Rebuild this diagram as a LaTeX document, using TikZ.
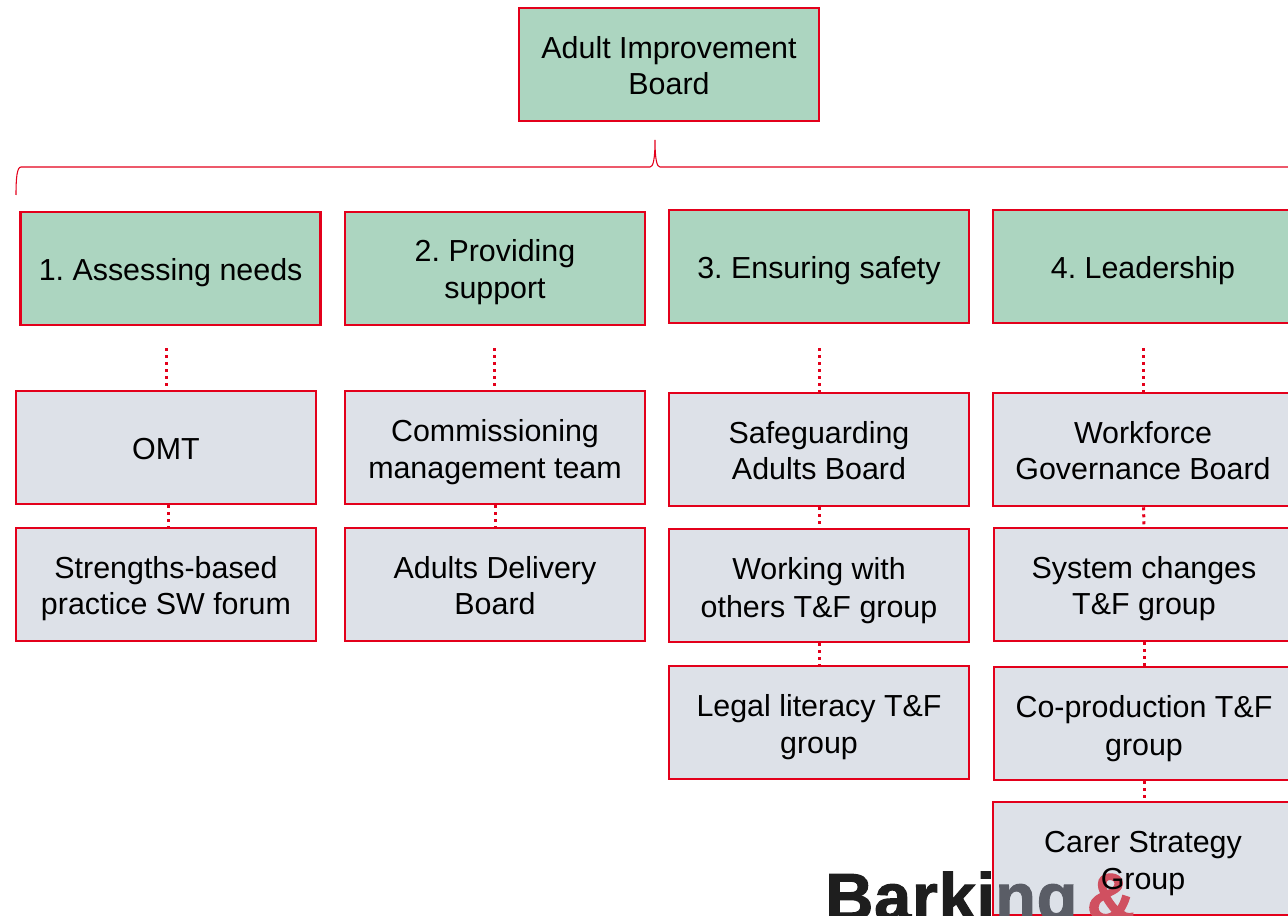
\documentclass[tikz,border=0pt]{standalone}
\usepackage{fontspec}
\setmainfont{Liberation Sans}
\newfontfamily\logofont[FakeBold=1.6,LetterSpace=1.2]{Liberation Sans Bold}
\definecolor{boardred}{HTML}{E3001B}
\definecolor{boardgreen}{HTML}{ACD5C0}
\definecolor{boardgrey}{HTML}{DDE1E8}
\definecolor{logodark}{HTML}{1E1E1E}
\definecolor{logogrey}{HTML}{5A5D66}
\definecolor{logored}{HTML}{D05060}
% text block placed at a fixed offset (in reference pixels) from the box centre
\newcommand{\boxlines}[2]{\raisebox{\dimexpr-0.75pt*\numexpr#1+113\relax/10\relax}[0pt][0pt]{\frenchspacing\begin{tabular}{@{}c@{}}#2\end{tabular}}}
\tikzset{
  x=0.75pt,y=-0.75pt,
  boxbase/.style={draw=boardred,line width=1.9pt,minimum width=225pt,minimum height=84.75pt,inner sep=0pt,text=black,font=\fontsize{22.8pt}{27.4pt}\selectfont},
  greenbox/.style={boxbase,fill=boardgreen},
  greybox/.style={boxbase,fill=boardgrey},
  dotline/.style={draw=boardred,line width=2.25pt,dash pattern=on 2.25pt off 3pt},
  bracket/.style={draw=boardred,line width=0.8pt},
  boxtext/.style={inner sep=0pt,text=black,font=\fontsize{22.8pt}{27.4pt}\selectfont},
  logotext/.style={inner sep=0pt,anchor=base west,font=\fontsize{50pt}{55pt}\selectfont\logofont}
}
\begin{document}
\begin{tikzpicture}
\useasboundingbox (0,0) rectangle (1288,916);
\clip (0,0) rectangle (1288,916);
\node[greenbox] (top) at (669,64.5) {\boxlines{5}{Adult Improvement\\Board}};
\coordinate (bl) at (16,195);
\coordinate (tip) at (655,140);
\coordinate (br) at (1300,167);
\draw[bracket] (bl) .. controls (16,178) and (17,167) .. (21,167) -- (650,167) .. controls (653,167) and (655,160) .. (tip) .. controls (655,160) and (657,167) .. (660,167) -- (br);

\node[greenbox] (h1) at (170.6,268.5) {\boxlines{5}{1. Assessing needs}};
\node[greenbox] (h2) at (495,268.5) {\boxlines{0}{2. Providing\\support}};
\node[greenbox] (h3) at (819,266.5) {\boxlines{5}{3. Ensuring safety}};
\node[greenbox] (h4) at (1143,266.5) {\boxlines{5}{4. Leadership}};

\node[greybox] (a1) at (166,447.5) {\boxlines{5}{OMT}};
\node[greybox] (a2) at (166,584.5) {\boxlines{5}{Strengths-based\\practice SW forum}};
\node[greybox] (b1) at (495,447.5) {\boxlines{10}{Commissioning\\management team}};
\node[greybox] (b2) at (495,584.5) {\boxlines{5}{Adults Delivery\\Board}};
\node[greybox] (c1) at (819,449.5) {\boxlines{5}{Safeguarding\\Adults Board}};
\node[greybox] (c2) at (819,585.5) {\boxlines{10}{Working with\\[1.2pt]others T\&F group}};
\node[greybox] (c3) at (819,722.5) {\boxlines{10}{Legal literacy T\&F\\[0.6pt]group}};
\node[greybox] (d1) at (1143,449.5) {\boxlines{5}{Workforce\\Governance Board}};
\node[greybox] (d2) at (1144,584.5) {\boxlines{5}{System changes\\T\&F group}};
\node[greybox] (d3) at (1144,723.5) {\boxlines{15}{Co-production T\&F\\[1.2pt]group}};
\node[greybox] (d4) at (1143,858.5) {};

\coordinate (s1) at (166,348);
\coordinate (s2) at (494.5,348);
\coordinate (s3) at (819,348);
\coordinate (s4) at (1143,348);
\draw[dotline] (s1) -- (a1.north);
\draw[dotline] (s2) -- (s2 |- b1.north);
\draw[dotline] (s3) -- (c1.north);
\draw[dotline] (s4) -- (d1.north);
\draw[dotline] ([xshift=1.5pt]a1.south) -- ([xshift=1.5pt]a2.north);
\draw[dotline] (b1.south) -- (b2.north);
\draw[dotline] (c1.south) -- (c2.north);
\draw[dotline] (c2.south) -- (c3.north);
\draw[dotline] ([xshift=0.4pt]d1.south) -- (d2.north);
\draw[dotline] (d2.south) -- (d3.north);
\draw[dotline] (d3.south) -- (d4.north -| d3.south);

\node[logotext] (logo) at (825,920) {\textcolor{logodark}{Barki}\textcolor{logogrey}{ng}\hspace{7pt}\textcolor{logored}{\&}};
\node[boxtext] (d4t) at (d4.center) {\boxlines{10}{Carer Strategy\\Group}};
\end{tikzpicture}
\end{document}
